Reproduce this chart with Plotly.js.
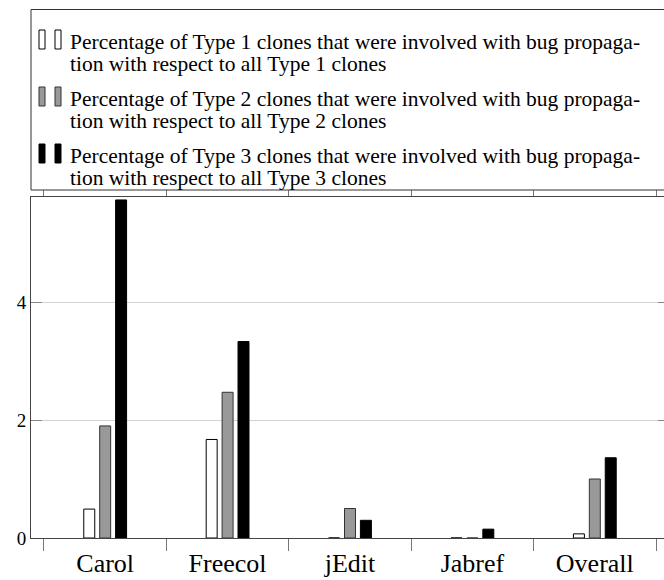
<!DOCTYPE html>
<html>
<head>
<meta charset="utf-8">
<script src="https://cdn.plot.ly/plotly-3.0.1.min.js"></script>
<style>html,body{margin:0;padding:0;overflow:hidden;background:#fff}</style>
</head>
<body>
<div id="chart"></div>
<script>
const categories = ["Carol", "Freecol", "jEdit", "Jabref", "Overall"];
const type1 = [0.49, 1.67, 0.0, 0.0, 0.07];
const type2 = [1.90, 2.47, 0.50, 0.0, 1.00];
const type3 = [5.73, 3.33, 0.30, 0.15, 1.36];
const legendLine1 = [
  "Percentage of Type 1 clones that were involved with bug propaga-",
  "Percentage of Type 2 clones that were involved with bug propaga-",
  "Percentage of Type 3 clones that were involved with bug propaga-"
];
const legendLine2 = [
  "tion with respect to all Type 1 clones",
  "tion with respect to all Type 2 clones",
  "tion with respect to all Type 3 clones"
];
const fills = ["#ffffff", "#999999", "#000000"];
const outlines = ["#000000", "#333333", "#000000"];

const serif = "Liberation Serif, Times New Roman, serif";
const series = [type1, type2, type3];
const traces = series.map((vals, i) => ({
  type: "bar", x: categories, y: vals, name: legendLine1[i] + " " + legendLine2[i],
  marker: {color: fills[i], line: {color: outlines[i], width: 1}}
}));

// pixel helpers for the legend box (plot area: x 31..669, y 197..538)
const L = 31, W = 638, B = 538, H = 341;
const px = v => (v - L) / W;
const py = v => (B - v) / H;

const shapes = [
  {type: "rect", xref: "paper", yref: "paper", x0: 0, x1: 1.05, y0: py(190), y1: py(9.5),
   fillcolor: "#ffffff", line: {color: "#333333", width: 1}, layer: "above"}
];
const annotations = [];
const fs = 21.5;
for (let i = 0; i < 3; i++) {
  const base = 49 + i * 57;
  [39, 55].forEach(x0 => {
    shapes.push({type: "rect", xref: "paper", yref: "paper",
      x0: px(x0), x1: px(x0 + 6), y0: py(base), y1: py(base - 19),
      fillcolor: fills[i], line: {color: outlines[i], width: 1}, layer: "above"});
  });
  [legendLine1[i], legendLine2[i]].forEach((t, j) => {
    annotations.push({xref: "paper", yref: "paper", x: px(68), y: py(base + j * 22 - 0.34 * fs),
      xanchor: "left", yanchor: "middle", showarrow: false, text: t,
      font: {family: serif, size: fs, color: "#000000"}});
  });
}

const layout = {
  width: 669, height: 580,
  margin: {l: 31, r: 0, t: 197, b: 42, autoexpand: false},
  paper_bgcolor: "#ffffff", plot_bgcolor: "#ffffff",
  font: {family: serif, color: "#000000"},
  barmode: "group", bargap: 0.61, bargroupgap: 0.31,
  showlegend: false,
  shapes: shapes,
  annotations: annotations,
  xaxis: {
    type: "category", range: [-0.606, 4.606],
    tickson: "boundaries", ticks: "outside", ticklen: 12, tickcolor: "#777777", tickwidth: 1,
    showline: true, linecolor: "#444444", linewidth: 1, mirror: "ticks",
    showgrid: false, zeroline: false, ticklabelstandoff: 2,
    tickfont: {family: serif, size: 26, color: "#000000"}
  },
  yaxis: {
    range: [0, 5.78], tickvals: [0, 2, 4], ticktext: ["0", "2", "4"],
    ticks: "inside", ticklen: 11, tickcolor: "#888888", tickwidth: 1,
    showline: true, linecolor: "#444444", linewidth: 1, mirror: "ticks",
    showgrid: true, gridcolor: "#d3d3d3", gridwidth: 1, zeroline: false,
    tickfont: {family: serif, size: 19, color: "#000000"}
  }
};

Plotly.newPlot("chart", traces, layout, {displayModeBar: false, staticPlot: true});
</script>
</body>
</html>
